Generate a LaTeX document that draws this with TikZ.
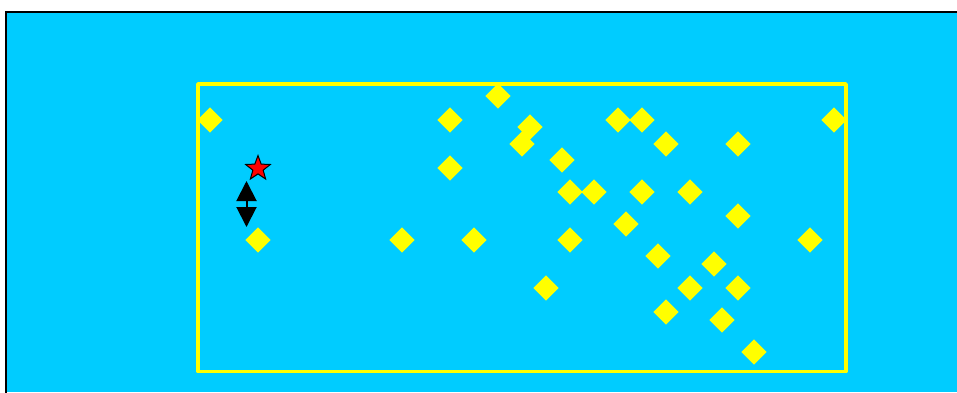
\documentclass[tikz,border=0pt]{standalone}
\usetikzlibrary{shapes.geometric,arrows.meta}
\definecolor{bgcyan}{HTML}{00CCFF}
\definecolor{ylw}{HTML}{FFFF00}
\tikzset{
  gem/.style={diamond, fill=ylw, draw=none, minimum width=25.5pt, minimum height=25.5pt, inner sep=0pt, aspect=1},
  redstar/.style={star, star points=5, star point ratio=2.4, fill=red, draw=black, line width=1pt, minimum size=26pt, inner sep=0pt},
  frameline/.style={draw=black, line width=2pt},
  field/.style={draw=ylw, line width=3.5pt, line join=round},
  dblarrow/.style={draw=black, line width=2pt, {Triangle[width=20pt,length=20pt]}-{Triangle[width=20pt,length=20pt]}}
}
\begin{document}
\begin{tikzpicture}[x=1pt,y=-1pt]
\useasboundingbox (0,0) rectangle (957,392);
\fill[white] (0,0) rectangle (957,392);
\fill[bgcyan] (6,12) rectangle (957,392);
\draw[frameline] (6,393) -- (6,12) -- (958,12);
\draw[field] (198,84) rectangle (846,371.5);
\foreach \n/\x/\y in {1/210/120, 2/450/120, 3/498/96, 4/530/127, 5/522/144, 6/450/168, 7/562/160, 8/570/192, 9/594/192, 10/618/120, 11/642/120, 12/666/144, 13/738/144, 14/834/120, 15/642/192, 16/690/192, 17/738/216, 18/626/224, 19/258/240, 20/402/240, 21/474/240, 22/570/240, 23/658/256, 24/714/264, 25/810/240, 26/546/288, 27/690/288, 28/738/288, 29/666/312, 30/722/320, 31/754/352}
  \node[gem] (d\n) at (\x,\y) {};
\node[redstar] (s) at (258,168.5) {};
\coordinate (atop) at (246.5,181);
\coordinate (abot) at (246.5,227);
\draw[dblarrow] (atop) -- (abot);
\end{tikzpicture}
\end{document}
